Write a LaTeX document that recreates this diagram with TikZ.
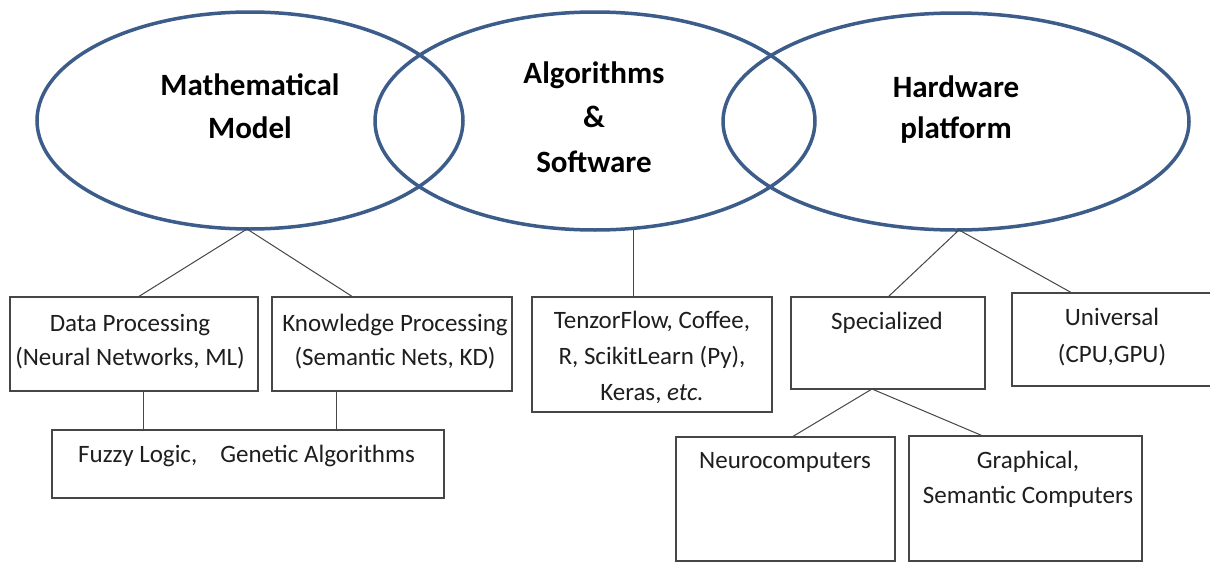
\documentclass[tikz,border=0pt]{standalone}
\usepackage{fontspec}
\setmainfont{Carlito}
\usetikzlibrary{shapes.geometric}
\definecolor{ellblue}{RGB}{60,92,138}
\definecolor{boxgray}{RGB}{70,70,70}
\definecolor{txtgray}{RGB}{30,30,30}
\begin{document}
\begin{tikzpicture}[x=1pt,y=-1pt,
  ell/.style={draw=ellblue, line width=3.5pt, ellipse, inner sep=0pt, outer sep=0pt},
  bx/.style={draw=boxgray, line width=1.3pt, rectangle, inner sep=0pt, outer sep=0pt},
  conn/.style={draw=boxgray, line width=1pt},
  elltxt/.style={inner sep=0pt, anchor=base, text=black, font=\bfseries\fontsize{31}{43}\selectfont},
  boxtxt/.style={inner sep=0pt, anchor=base, text=txtgray, font=\fontsize{25}{34}\selectfont}]
\useasboundingbox (0,0) rectangle (1210,562);
\fill[white] (0,0) rectangle (1210,562);

% ellipses
\node[ell, minimum width=426pt, minimum height=217pt] (m) at (250,120.5) {};
\node[ell, minimum width=440pt, minimum height=218pt] (a) at (595,121) {};
\node[ell, minimum width=466pt, minimum height=217pt] (h) at (956,121.5) {};

\node[elltxt] (mT) at (250,95) {\begin{tabular}[t]{@{}c@{}}Mathematical\\Model\end{tabular}};
\node[elltxt, font=\bfseries\fontsize{31}{44.5}\selectfont] (aT) at (594,83) {\begin{tabular}[t]{@{}c@{}}Algorithms\\\&\\Software\end{tabular}};
\node[elltxt, font=\bfseries\fontsize{31}{41}\selectfont] (hT) at (956,97) {\begin{tabular}[t]{@{}c@{}}Hardware\\platform\end{tabular}};

% boxes
\node[bx, minimum width=248pt, minimum height=94pt] (dp) at (134,344) {};
\node[bx, minimum width=240pt, minimum height=94pt] (kp) at (392,344) {};
\node[bx, minimum width=392pt, minimum height=68pt] (fz) at (248,464) {};
\node[bx, minimum width=240pt, minimum height=115pt] (tf) at (652,354.5) {};
\node[bx, minimum width=194pt, minimum height=92pt] (sp) at (888,343) {};
\node[bx, minimum width=200pt, minimum height=93pt] (un) at (1112,339.5) {};
\node[bx, minimum width=219pt, minimum height=124pt] (nc) at (785.5,499) {};
\node[bx, minimum width=233pt, minimum height=125pt] (gr) at (1025.5,498.5) {};

% box texts
\node[boxtxt] (dpT) at (130,331) {\begin{tabular}[t]{@{}c@{}}Data Processing\\(Neural Networks, ML)\end{tabular}};
\node[boxtxt] (kpT) at (395,331) {\begin{tabular}[t]{@{}c@{}}Knowledge Processing\\(Semantic Nets, KD)\end{tabular}};
\node[boxtxt, anchor=base west] (fzT) at (78,462) {Fuzzy Logic,\hspace{23pt}Genetic Algorithms};
\node[boxtxt, font=\fontsize{25}{36}\selectfont] (tfT) at (652,328) {\begin{tabular}[t]{@{}c@{}}TenzorFlow, Coffee,\\R, ScikitLearn (Py),\\Keras, \textit{etc.}\end{tabular}};
\node[boxtxt] (spT) at (887,329) {Specialized};
\node[boxtxt, font=\fontsize{25}{37}\selectfont] (unT) at (1112,325) {\begin{tabular}[t]{@{}c@{}}Universal\\(CPU,GPU)\end{tabular}};
\node[boxtxt] (ncT) at (785,468) {Neurocomputers};
\node[boxtxt, font=\fontsize{25}{35}\selectfont] (grT) at (1028,468) {\begin{tabular}[t]{@{}c@{}}Graphical,\\Semantic Computers\end{tabular}};

% connectors
\coordinate (mA) at ([xshift=-3pt]m.south);
\draw[conn] (mA) -- ([xshift=4pt]dp.north);
\draw[conn] (mA) -- ([xshift=-39pt]kp.north);

\coordinate (c1) at ([xshift=9pt]dp.south);
\coordinate (c2) at ([xshift=-56pt]kp.south);
\draw[conn] (c1) -- (c1 |- fz.north);
\draw[conn] (c2) -- (c2 |- fz.north);

\coordinate (c3) at ([xshift=-19pt]tf.north);
\draw[conn] (c3) -- (c3 |- a.south);

\coordinate (hA) at ([xshift=3pt]h.south);
\draw[conn] (hA) -- (sp.north);
\draw[conn] (hA) -- ([xshift=-40pt]un.north);

\coordinate (sA) at ([xshift=-16pt]sp.south);
\draw[conn] (sA) -- ([xshift=6.5pt]nc.north);
\draw[conn] (sA) -- ([xshift=-42.5pt]gr.north);
\end{tikzpicture}
\end{document}
